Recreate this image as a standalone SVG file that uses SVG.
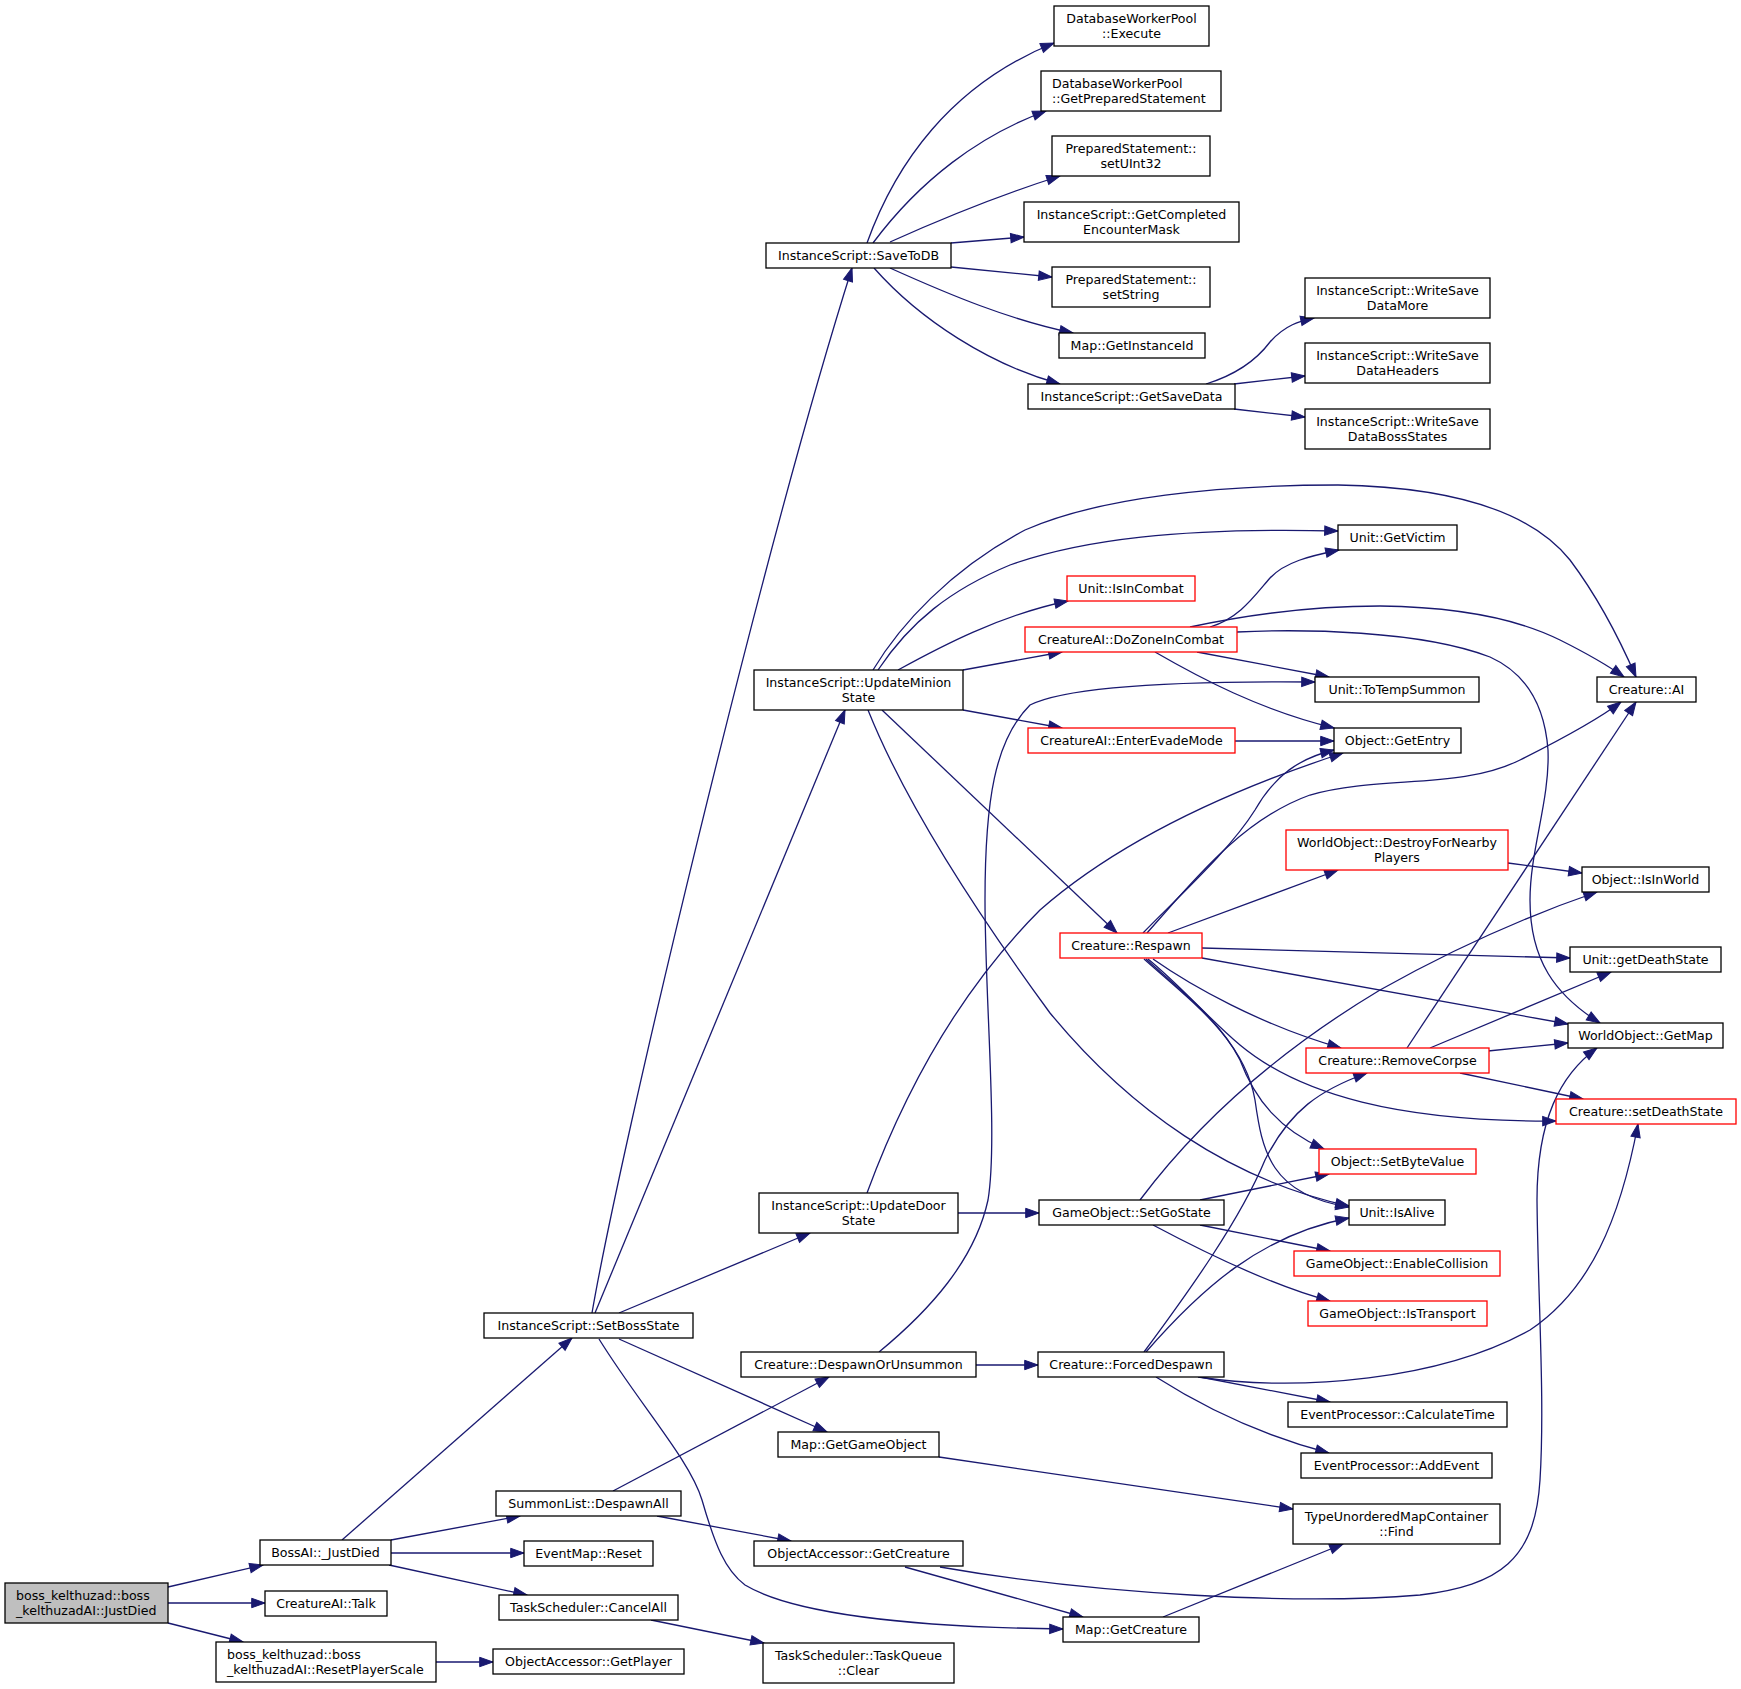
<svg xmlns="http://www.w3.org/2000/svg" width="1741" height="1689" viewBox="0 0 1741 1689">
<style>
.node rect{fill:#fff;stroke:#000;stroke-width:1.3}
.node.red rect{stroke:#ff0000}
.node.root rect{fill:#bfbfbf}
.node text{font-family:"DejaVu Sans","Liberation Sans",sans-serif;font-size:12.6px;fill:#000;text-anchor:middle}
.node text.l{text-anchor:start}
.edges path{fill:none;stroke:#191970;stroke-width:1.3;marker-end:url(#arr)}
</style>
<defs>
<marker id="arr" markerUnits="userSpaceOnUse" markerWidth="16" markerHeight="12" refX="13.3" refY="4.7" orient="auto" style="overflow:visible">
<path d="M0,0 L13.3,4.7 L0,9.4 z" fill="#191970" stroke="#191970" stroke-width="1"/>
</marker>
</defs>
<rect width="1741" height="1689" fill="#fff"/>
<g class="edges">
<path d="M168,1587 L263,1565"/>
<path d="M168,1603 L265,1603"/>
<path d="M168,1623 L243,1642"/>
<path d="M342,1540 L572,1338"/>
<path d="M391,1540 L520,1516"/>
<path d="M391,1553 L524,1553"/>
<path d="M389,1565 L527,1595"/>
<path d="M436,1662 L493,1662"/>
<path d="M592,1313 C620,1150 760,560 852,268"/>
<path d="M595,1313 L845,710"/>
<path d="M619,1313 L810,1233"/>
<path d="M619,1339 L827,1432"/>
<path d="M599,1339 C640,1405 690,1460 702,1500 C715,1545 725,1570 745,1585 C790,1612 900,1627 1063,1629"/>
<path d="M613,1491 L829,1377"/>
<path d="M657,1516 L791,1541"/>
<path d="M651,1620 L764,1643"/>
<path d="M958,1213 L1039,1213"/>
<path d="M867,1193 C905,1090 960,990 1040,910 C1120,840 1230,790 1343,753"/>
<path d="M873,670 C900,625 950,570 1025,530 C1100,497 1220,485 1338,485 C1450,487 1530,510 1570,560 C1600,600 1620,640 1636,677"/>
<path d="M878,670 C910,622 950,590 1010,565 C1080,540 1180,527 1338,531"/>
<path d="M898,670 C940,647 1000,615 1068,601"/>
<path d="M963,670 L1062,652"/>
<path d="M963,710 L1062,728"/>
<path d="M882,710 L1117,933"/>
<path d="M868,710 C900,790 960,890 1050,1013 C1130,1110 1230,1180 1349,1206"/>
<path d="M867,243 C895,165 950,85 1054,43"/>
<path d="M873,243 C920,180 980,135 1046,111"/>
<path d="M890,242 C950,215 1000,195 1060,176"/>
<path d="M951,243 L1024,237"/>
<path d="M951,267 L1052,277"/>
<path d="M890,268 C950,295 1010,320 1073,333"/>
<path d="M874,268 C920,320 990,365 1060,384"/>
<path d="M1206,384 C1235,375 1255,362 1270,342 C1285,325 1300,321 1314,318"/>
<path d="M1234,384 L1305,376"/>
<path d="M1234,409 L1305,417"/>
<path d="M1210,627 C1240,618 1255,595 1270,578 C1285,562 1310,556 1339,550"/>
<path d="M1190,627 C1260,612 1320,606 1380,606 C1460,607 1520,620 1560,640 C1590,655 1610,667 1624,677"/>
<path d="M1237,632 C1300,629 1420,630 1490,657 C1530,675 1545,710 1548,750 C1550,800 1530,850 1530,900 C1530,960 1555,995 1600,1023"/>
<path d="M1197,652 L1329,677"/>
<path d="M1155,652 C1200,678 1260,710 1334,728"/>
<path d="M1235,741 L1334,741"/>
<path d="M879,1352 C930,1310 975,1260 988,1200 C998,1140 985,1000 985,900 C985,800 995,740 1030,705 C1070,685 1200,681 1315,682"/>
<path d="M976,1365 L1038,1365"/>
<path d="M1143,933 C1180,895 1230,850 1255,810 C1275,775 1300,758 1334,750"/>
<path d="M1147,933 C1190,885 1240,820 1310,795 C1380,775 1460,790 1520,760 C1570,735 1600,718 1621,702"/>
<path d="M1168,933 L1338,870"/>
<path d="M1202,948 L1570,958"/>
<path d="M1202,958 L1568,1024"/>
<path d="M1153,959 C1190,985 1260,1025 1341,1048"/>
<path d="M1148,959 C1180,985 1210,1020 1240,1045 C1300,1095 1400,1122 1556,1121"/>
<path d="M1146,959 C1180,990 1220,1020 1240,1060 C1255,1100 1280,1130 1324,1149"/>
<path d="M1144,959 C1190,1000 1245,1040 1255,1100 C1262,1150 1270,1195 1349,1207"/>
<path d="M1140,1200 C1200,1120 1280,1050 1380,990 C1460,945 1530,915 1597,892"/>
<path d="M1200,1200 L1329,1174"/>
<path d="M1200,1225 L1330,1251"/>
<path d="M1153,1225 C1200,1250 1270,1285 1330,1301"/>
<path d="M1144,1352 C1190,1290 1240,1220 1265,1160 C1290,1110 1320,1090 1367,1073"/>
<path d="M1146,1352 C1200,1290 1260,1235 1349,1218"/>
<path d="M1198,1377 C1300,1392 1440,1380 1530,1330 C1590,1290 1620,1220 1638,1124"/>
<path d="M1200,1377 L1330,1402"/>
<path d="M1156,1377 C1200,1405 1260,1435 1329,1453"/>
<path d="M939,1457 L1293,1509"/>
<path d="M905,1567 L1083,1617"/>
<path d="M940,1567 C1100,1595 1300,1605 1420,1595 C1500,1585 1535,1560 1540,1480 C1545,1400 1538,1300 1537,1200 C1537,1120 1560,1075 1597,1048"/>
<path d="M1163,1617 L1343,1544"/>
<path d="M1407,1048 L1636,702"/>
<path d="M1430,1048 L1611,972"/>
<path d="M1488,1051 L1568,1043"/>
<path d="M1460,1073 L1583,1099"/>
<path d="M1508,863 L1582,873"/>
</g>
<g id="n0" class="node root"><rect x="5" y="1583" width="163" height="40"/><text class="l"><tspan x="16" y="1600">boss_kelthuzad::boss</tspan><tspan x="16" y="1615">_kelthuzadAI::JustDied</tspan></text></g>
<g id="n1" class="node"><rect x="260" y="1540" width="131" height="25"/><text x="325.5" y="1556.5">BossAI::_JustDied</text></g>
<g id="n2" class="node"><rect x="265" y="1591" width="122" height="25"/><text x="326" y="1607.5">CreatureAI::Talk</text></g>
<g id="n3" class="node"><rect x="216" y="1642" width="220" height="40"/><text class="l"><tspan x="227" y="1659">boss_kelthuzad::boss</tspan><tspan x="227" y="1674">_kelthuzadAI::ResetPlayerScale</tspan></text></g>
<g id="n4" class="node"><rect x="484" y="1313" width="209" height="25"/><text x="588.5" y="1329.5">InstanceScript::SetBossState</text></g>
<g id="n5" class="node"><rect x="496" y="1491" width="185" height="25"/><text x="588.5" y="1507.5">SummonList::DespawnAll</text></g>
<g id="n6" class="node"><rect x="524" y="1541" width="129" height="25"/><text x="588.5" y="1557.5">EventMap::Reset</text></g>
<g id="n7" class="node"><rect x="499" y="1595" width="179" height="25"/><text x="588.5" y="1611.5">TaskScheduler::CancelAll</text></g>
<g id="n8" class="node"><rect x="493" y="1649" width="191" height="25"/><text x="588.5" y="1665.5">ObjectAccessor::GetPlayer</text></g>
<g id="n9" class="node"><rect x="766" y="243" width="185" height="25"/><text x="858.5" y="259.5">InstanceScript::SaveToDB</text></g>
<g id="n10" class="node"><rect x="754" y="670" width="209" height="40"/><text><tspan x="858.5" y="686.5">InstanceScript::UpdateMinion</tspan><tspan x="858.5" y="701.5">State</tspan></text></g>
<g id="n11" class="node"><rect x="759" y="1193" width="199" height="40"/><text><tspan x="858.5" y="1209.5">InstanceScript::UpdateDoor</tspan><tspan x="858.5" y="1224.5">State</tspan></text></g>
<g id="n12" class="node"><rect x="741" y="1352" width="235" height="25"/><text x="858.5" y="1368.5">Creature::DespawnOrUnsummon</text></g>
<g id="n13" class="node"><rect x="778" y="1432" width="161" height="25"/><text x="858.5" y="1448.5">Map::GetGameObject</text></g>
<g id="n14" class="node"><rect x="754" y="1541" width="209" height="25"/><text x="858.5" y="1557.5">ObjectAccessor::GetCreature</text></g>
<g id="n15" class="node"><rect x="763" y="1643" width="191" height="40"/><text><tspan x="858.5" y="1659.5">TaskScheduler::TaskQueue</tspan><tspan x="858.5" y="1674.5">::Clear</tspan></text></g>
<g id="n16" class="node"><rect x="1054" y="6" width="155" height="40"/><text><tspan x="1131.5" y="22.5">DatabaseWorkerPool</tspan><tspan x="1131.5" y="37.5">::Execute</tspan></text></g>
<g id="n17" class="node"><rect x="1041" y="71" width="180" height="40"/><text class="l"><tspan x="1052" y="87.5">DatabaseWorkerPool</tspan><tspan x="1052" y="102.5">::GetPreparedStatement</tspan></text></g>
<g id="n18" class="node"><rect x="1052" y="136" width="158" height="40"/><text><tspan x="1131" y="152.5">PreparedStatement::</tspan><tspan x="1131" y="167.5">setUInt32</tspan></text></g>
<g id="n19" class="node"><rect x="1024" y="202" width="215" height="40"/><text><tspan x="1131.5" y="218.5">InstanceScript::GetCompleted</tspan><tspan x="1131.5" y="233.5">EncounterMask</tspan></text></g>
<g id="n20" class="node"><rect x="1052" y="267" width="158" height="40"/><text><tspan x="1131" y="283.5">PreparedStatement::</tspan><tspan x="1131" y="298.5">setString</tspan></text></g>
<g id="n21" class="node"><rect x="1059" y="333" width="146" height="25"/><text x="1132" y="349.5">Map::GetInstanceId</text></g>
<g id="n22" class="node"><rect x="1028" y="384" width="207" height="25"/><text x="1131.5" y="400.5">InstanceScript::GetSaveData</text></g>
<g id="n23" class="node red"><rect x="1067" y="576" width="128" height="25"/><text x="1131" y="592.5">Unit::IsInCombat</text></g>
<g id="n24" class="node red"><rect x="1025" y="627" width="212" height="25"/><text x="1131" y="643.5">CreatureAI::DoZoneInCombat</text></g>
<g id="n25" class="node red"><rect x="1028" y="728" width="207" height="25"/><text x="1131.5" y="744.5">CreatureAI::EnterEvadeMode</text></g>
<g id="n26" class="node red"><rect x="1060" y="933" width="142" height="25"/><text x="1131" y="949.5">Creature::Respawn</text></g>
<g id="n27" class="node"><rect x="1039" y="1200" width="185" height="25"/><text x="1131.5" y="1216.5">GameObject::SetGoState</text></g>
<g id="n28" class="node"><rect x="1038" y="1352" width="186" height="25"/><text x="1131" y="1368.5">Creature::ForcedDespawn</text></g>
<g id="n29" class="node"><rect x="1063" y="1617" width="136" height="25"/><text x="1131" y="1633.5">Map::GetCreature</text></g>
<g id="n30" class="node"><rect x="1305" y="278" width="185" height="40"/><text><tspan x="1397.5" y="294.5">InstanceScript::WriteSave</tspan><tspan x="1397.5" y="309.5">DataMore</tspan></text></g>
<g id="n31" class="node"><rect x="1305" y="343" width="185" height="40"/><text><tspan x="1397.5" y="359.5">InstanceScript::WriteSave</tspan><tspan x="1397.5" y="374.5">DataHeaders</tspan></text></g>
<g id="n32" class="node"><rect x="1305" y="409" width="185" height="40"/><text><tspan x="1397.5" y="425.5">InstanceScript::WriteSave</tspan><tspan x="1397.5" y="440.5">DataBossStates</tspan></text></g>
<g id="n33" class="node"><rect x="1338" y="525" width="119" height="25"/><text x="1397.5" y="541.5">Unit::GetVictim</text></g>
<g id="n34" class="node"><rect x="1315" y="677" width="164" height="25"/><text x="1397" y="693.5">Unit::ToTempSummon</text></g>
<g id="n35" class="node"><rect x="1334" y="728" width="127" height="25"/><text x="1397.5" y="744.5">Object::GetEntry</text></g>
<g id="n36" class="node red"><rect x="1286" y="830" width="222" height="40"/><text><tspan x="1397" y="846.5">WorldObject::DestroyForNearby</tspan><tspan x="1397" y="861.5">Players</tspan></text></g>
<g id="n37" class="node red"><rect x="1306" y="1048" width="183" height="25"/><text x="1397.5" y="1064.5">Creature::RemoveCorpse</text></g>
<g id="n38" class="node red"><rect x="1319" y="1149" width="157" height="25"/><text x="1397.5" y="1165.5">Object::SetByteValue</text></g>
<g id="n39" class="node"><rect x="1349" y="1200" width="96" height="25"/><text x="1397" y="1216.5">Unit::IsAlive</text></g>
<g id="n40" class="node red"><rect x="1294" y="1251" width="206" height="25"/><text x="1397" y="1267.5">GameObject::EnableCollision</text></g>
<g id="n41" class="node red"><rect x="1308" y="1301" width="179" height="25"/><text x="1397.5" y="1317.5">GameObject::IsTransport</text></g>
<g id="n42" class="node"><rect x="1288" y="1402" width="219" height="25"/><text x="1397.5" y="1418.5">EventProcessor::CalculateTime</text></g>
<g id="n43" class="node"><rect x="1301" y="1453" width="191" height="25"/><text x="1396.5" y="1469.5">EventProcessor::AddEvent</text></g>
<g id="n44" class="node"><rect x="1293" y="1504" width="207" height="40"/><text><tspan x="1396.5" y="1520.5">TypeUnorderedMapContainer</tspan><tspan x="1396.5" y="1535.5">::Find</tspan></text></g>
<g id="n45" class="node"><rect x="1597" y="677" width="99" height="25"/><text x="1646.5" y="693.5">Creature::AI</text></g>
<g id="n46" class="node"><rect x="1582" y="867" width="127" height="25"/><text x="1645.5" y="883.5">Object::IsInWorld</text></g>
<g id="n47" class="node"><rect x="1570" y="947" width="151" height="25"/><text x="1645.5" y="963.5">Unit::getDeathState</text></g>
<g id="n48" class="node"><rect x="1568" y="1023" width="155" height="25"/><text x="1645.5" y="1039.5">WorldObject::GetMap</text></g>
<g id="n49" class="node red"><rect x="1556" y="1099" width="180" height="25"/><text x="1646" y="1115.5">Creature::setDeathState</text></g>
</svg>
